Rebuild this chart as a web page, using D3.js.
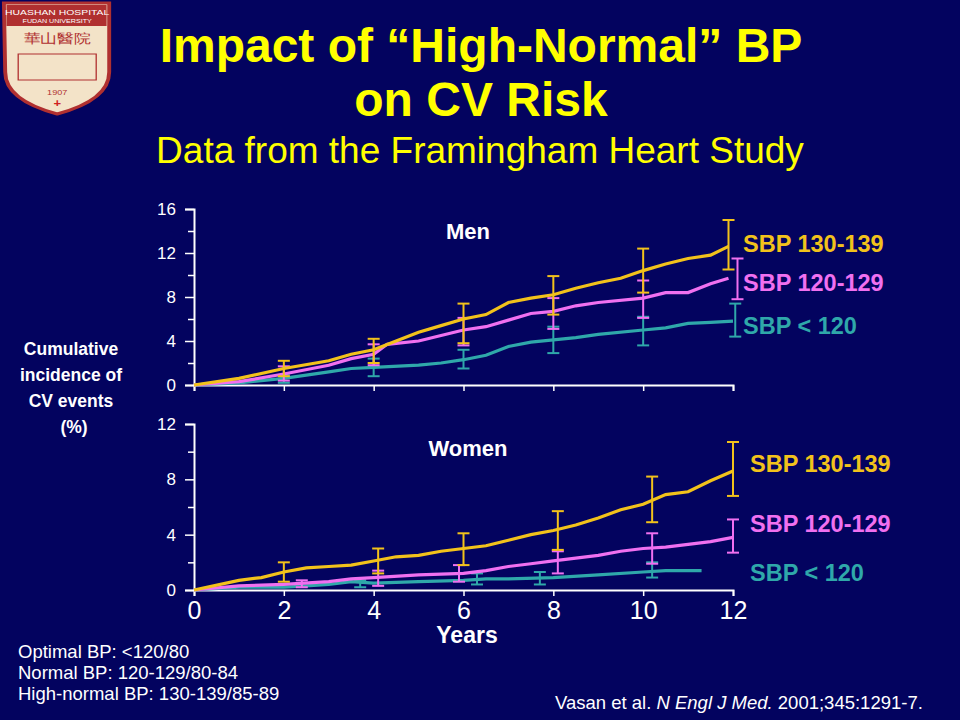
<!DOCTYPE html><html><head><meta charset="utf-8">
<script src="https://cdn.jsdelivr.net/npm/d3@7"></script>
<style>body{margin:0;background:#03035f}svg{display:block}text{font-family:"Liberation Sans",Arial,sans-serif}</style></head><body>
<script>
const years=[0,2,4,6,8,10,12];
const menYTicks=[0,4,8,12,16], womenYTicks=[0,4,8,12];
const seriesNames=["SBP 130-139","SBP 120-129","SBP < 120"];
const colors=["#f2c21b","#f070f0","#2fa8aa"];
const men130=[[0,0],[1,0.6],[2,1.5],[3,2.2],[3.5,2.8],[4,3.2],[4.5,4],[5,4.8],[5.5,5.4],[6,6],[6.5,6.4],[7,7.5],[7.5,7.9],[8,8.2],[8.5,8.8],[9,9.3],[9.5,9.7],[10,10.4],[10.5,11],[11,11.5],[11.5,11.8],[11.9,12.6]];
const men120=[[0,0],[1,0.3],[2,1],[3,1.8],[3.5,2.4],[4,2.8],[4.3,3.7],[5,4],[5.5,4.5],[6,5],[6.5,5.3],[7,5.9],[7.5,6.5],[8,6.7],[8.5,7.2],[9,7.5],[10,7.9],[10.5,8.4],[11,8.4],[11.5,9.2],[11.9,9.7]];
const menLow=[[0,0],[1,0.2],[2,0.6],[3,1.2],[3.5,1.5],[4,1.6],[5,1.8],[5.5,2],[6,2.3],[6.5,2.7],[7,3.5],[7.5,3.9],[8,4.1],[8.5,4.3],[9,4.6],[10,5],[10.5,5.2],[11,5.6],[11.5,5.7],[12,5.8]];
const men130Err=[[2,0.8,2.2],[4,2,4.2],[6,3.8,7.4],[8,6.4,9.9],[10,8.4,12.4],[11.9,10.5,15]];
const men120Err=[[2,0.4,1.7],[4,1.8,3.7],[6,3.6,6.1],[8,5.1,7.9],[10,6.1,9.5],[12.1,7.8,11.5]];
const menLowErr=[[2,0.2,0.9],[4,0.8,2.4],[6,1.5,3.2],[8,2.9,5.3],[10,3.6,6.2],[12.05,4.4,7.4]];
const women130=[[0,0],[1,0.7],[1.5,0.9],[2,1.3],[2.5,1.6],[3,1.7],[3.5,1.8],[4,2.1],[4.5,2.4],[5,2.5],[5.5,2.8],[6,3],[6.5,3.2],[7,3.6],[7.5,4],[8,4.3],[8.5,4.7],[9,5.2],[9.5,5.8],[10,6.2],[10.5,6.9],[11,7.1],[11.5,7.9],[12,8.6]];
const women120=[[0,0],[1,0.3],[2,0.4],[3,0.6],[3.5,0.8],[4,0.9],[5,1.1],[6,1.2],[6.5,1.4],[7,1.7],[7.5,1.9],[8,2.1],[8.5,2.3],[9,2.5],[9.5,2.8],[10,3],[10.5,3.1],[11,3.3],[11.5,3.5],[12,3.8]];
const womenLow=[[0,0],[1,0.2],[2,0.2],[2.5,0.3],[3,0.4],[3.5,0.6],[4,0.5],[5,0.6],[6,0.7],[6.5,0.8],[7,0.8],[8,0.9],[9,1.1],[10,1.3],[10.5,1.4],[11.3,1.4]];
const women130Err=[[2,0.6,2.0],[4.1,1.2,3.0],[6,1.8,4.1],[8.1,2.9,5.7],[10.2,4.9,8.2],[12,6.8,10.7]];
const women120Err=[[2.4,0.2,0.7],[4.1,0.3,1.4],[5.9,0.6,1.8],[8.1,1.2,2.8],[10.2,1.9,4.1],[12,2.7,5.1]];
const womenLowErr=[[3.7,0.2,0.7],[6.3,0.4,1.2],[7.7,0.4,1.3],[10.2,0.9,2.0]];

const svg=d3.select("body").append("svg").attr("width",960).attr("height",720);
svg.append("rect").attr("width",960).attr("height",720).attr("fill","#03035f");
// logo
const lg=svg.append("g").attr("transform","scale(1.3,1.0)");
lg.append("path").attr("d","M3,3 H84 V72 Q84,100 44,114 Q4,100 4,72 Z").attr("fill","#f3e3c8").attr("stroke","#b03030").attr("stroke-width",3);
lg.append("rect").attr("x",5).attr("y",5).attr("width",77).attr("height",21).attr("fill","#b03030");
lg.append("text").attr("x",44).attr("y",15).attr("text-anchor","middle").attr("font-size",8).attr("fill","#fff").text("HUASHAN HOSPITAL");
lg.append("text").attr("x",44).attr("y",23).attr("text-anchor","middle").attr("font-size",5.5).attr("fill","#fff").text("FUDAN UNIVERSITY");
lg.append("text").attr("x",44).attr("y",43).attr("text-anchor","middle").attr("font-size",13).attr("fill","#b03030").attr("font-family","Noto Sans CJK SC").text("華山醫院");
lg.append("rect").attr("x",14).attr("y",54).attr("width",60).attr("height",26).attr("fill","none").attr("stroke","#b03030");
lg.append("text").attr("x",44).attr("y",95).attr("text-anchor","middle").attr("font-size",7).attr("fill","#b03030").text("1907");
lg.append("text").attr("x",44).attr("y",107).attr("text-anchor","middle").attr("font-size",10).attr("font-weight","bold").attr("fill","#d02020").text("+");
// titles
svg.append("text").attr("x",481).attr("y",62).attr("text-anchor","middle").attr("font-size",48).attr("font-weight","bold").attr("fill","#ffff00").text("Impact of “High-Normal” BP");
svg.append("text").attr("x",481).attr("y",116).attr("text-anchor","middle").attr("font-size",48).attr("font-weight","bold").attr("fill","#ffff00").text("on CV Risk");
svg.append("text").attr("x",480).attr("y",163).attr("text-anchor","middle").attr("font-size",37).attr("fill","#ffff00").text("Data from the Framingham Heart Study");

const x=d3.scaleLinear().domain([0,12]).range([194,733]);
function panel(y0,y1,ymax,yt,data,errs,title,titleY,showXLabels,labYs,labX){
  const y=d3.scaleLinear().domain([0,ymax]).range([y0,y1]);
  const g=svg.append("g");
  const ya=g.append("g").attr("transform","translate(194,0)").call(d3.axisLeft(y).tickValues(d3.range(0,ymax+1,2)).tickSize(9).tickPadding(9).tickFormat(d=>yt.includes(d)?d:""));
  ya.selectAll(".tick line").attr("x2",d=>yt.includes(d)?-9:-6);
  const xa=g.append("g").attr("transform",`translate(0,${y0})`).call(d3.axisBottom(x).tickValues(years).tickSize(6).tickFormat(showXLabels?d3.format("d"):""));
  [ya,xa].forEach(a=>{a.select(".domain").attr("stroke","#fff").attr("stroke-width",2);a.selectAll(".tick line").attr("stroke","#fff").attr("stroke-width",1.5);a.selectAll("text").attr("fill","#fff").attr("font-family","Liberation Sans, Arial, sans-serif");});
  ya.selectAll("text").attr("font-size",17);
  xa.selectAll("text").attr("font-size",25).attr("dy","0.8em");
  const line=d3.line().x(d=>x(d[0])).y(d=>y(d[1]));
  [2,1,0].forEach(i=>{
    g.append("path").attr("d",line(data[i])).attr("fill","none").attr("stroke",colors[i]).attr("stroke-width",3.2);
    errs[i].forEach(e=>{
      const eg=g.append("g").attr("stroke",colors[i]).attr("stroke-width",2);
      eg.append("line").attr("x1",x(e[0])).attr("x2",x(e[0])).attr("y1",y(e[1])).attr("y2",y(e[2]));
      [e[1],e[2]].forEach(v=>eg.append("line").attr("x1",x(e[0])-6).attr("x2",x(e[0])+6).attr("y1",y(v)).attr("y2",y(v)));
    });
  });
  g.append("text").attr("x",468).attr("y",titleY).attr("text-anchor","middle").attr("font-size",22).attr("font-weight","bold").attr("fill","#fff").text(title);
  seriesNames.forEach((n,i)=>g.append("text").attr("x",labX).attr("y",labYs[i]).attr("font-size",23.5).attr("font-weight","bold").attr("fill",colors[i]).text(n));
}
panel(385,209,16,menYTicks,[men130,men120,menLow],[men130Err,men120Err,menLowErr],"Men",239,false,[252,291,334],743);
panel(590,424,12,womenYTicks,[women130,women120,womenLow],[women130Err,women120Err,womenLowErr],"Women",456,true,[472,532,581],750);

["Cumulative","incidence of","CV events","(%)"].forEach((t,i)=>svg.append("text").attr("x",i==3?74:71).attr("y",355+i*26).attr("text-anchor","middle").attr("font-size",17.5).attr("font-weight","bold").attr("fill","#fff").text(t));
svg.append("text").attr("x",467).attr("y",643).attr("text-anchor","middle").attr("font-size",23).attr("font-weight","bold").attr("fill","#fff").text("Years");
["Optimal BP: <120/80","Normal BP: 120-129/80-84","High-normal BP: 130-139/85-89"].forEach((t,i)=>svg.append("text").attr("x",18).attr("y",658+i*21).attr("font-size",18.5).attr("fill","#fff").text(t));
const c=svg.append("text").attr("x",555).attr("y",709).attr("font-size",18.5).attr("fill","#fff");
c.append("tspan").text("Vasan et al. ");c.append("tspan").attr("font-style","italic").text("N Engl J Med.");c.append("tspan").text(" 2001;345:1291-7.");
</script></body></html>
